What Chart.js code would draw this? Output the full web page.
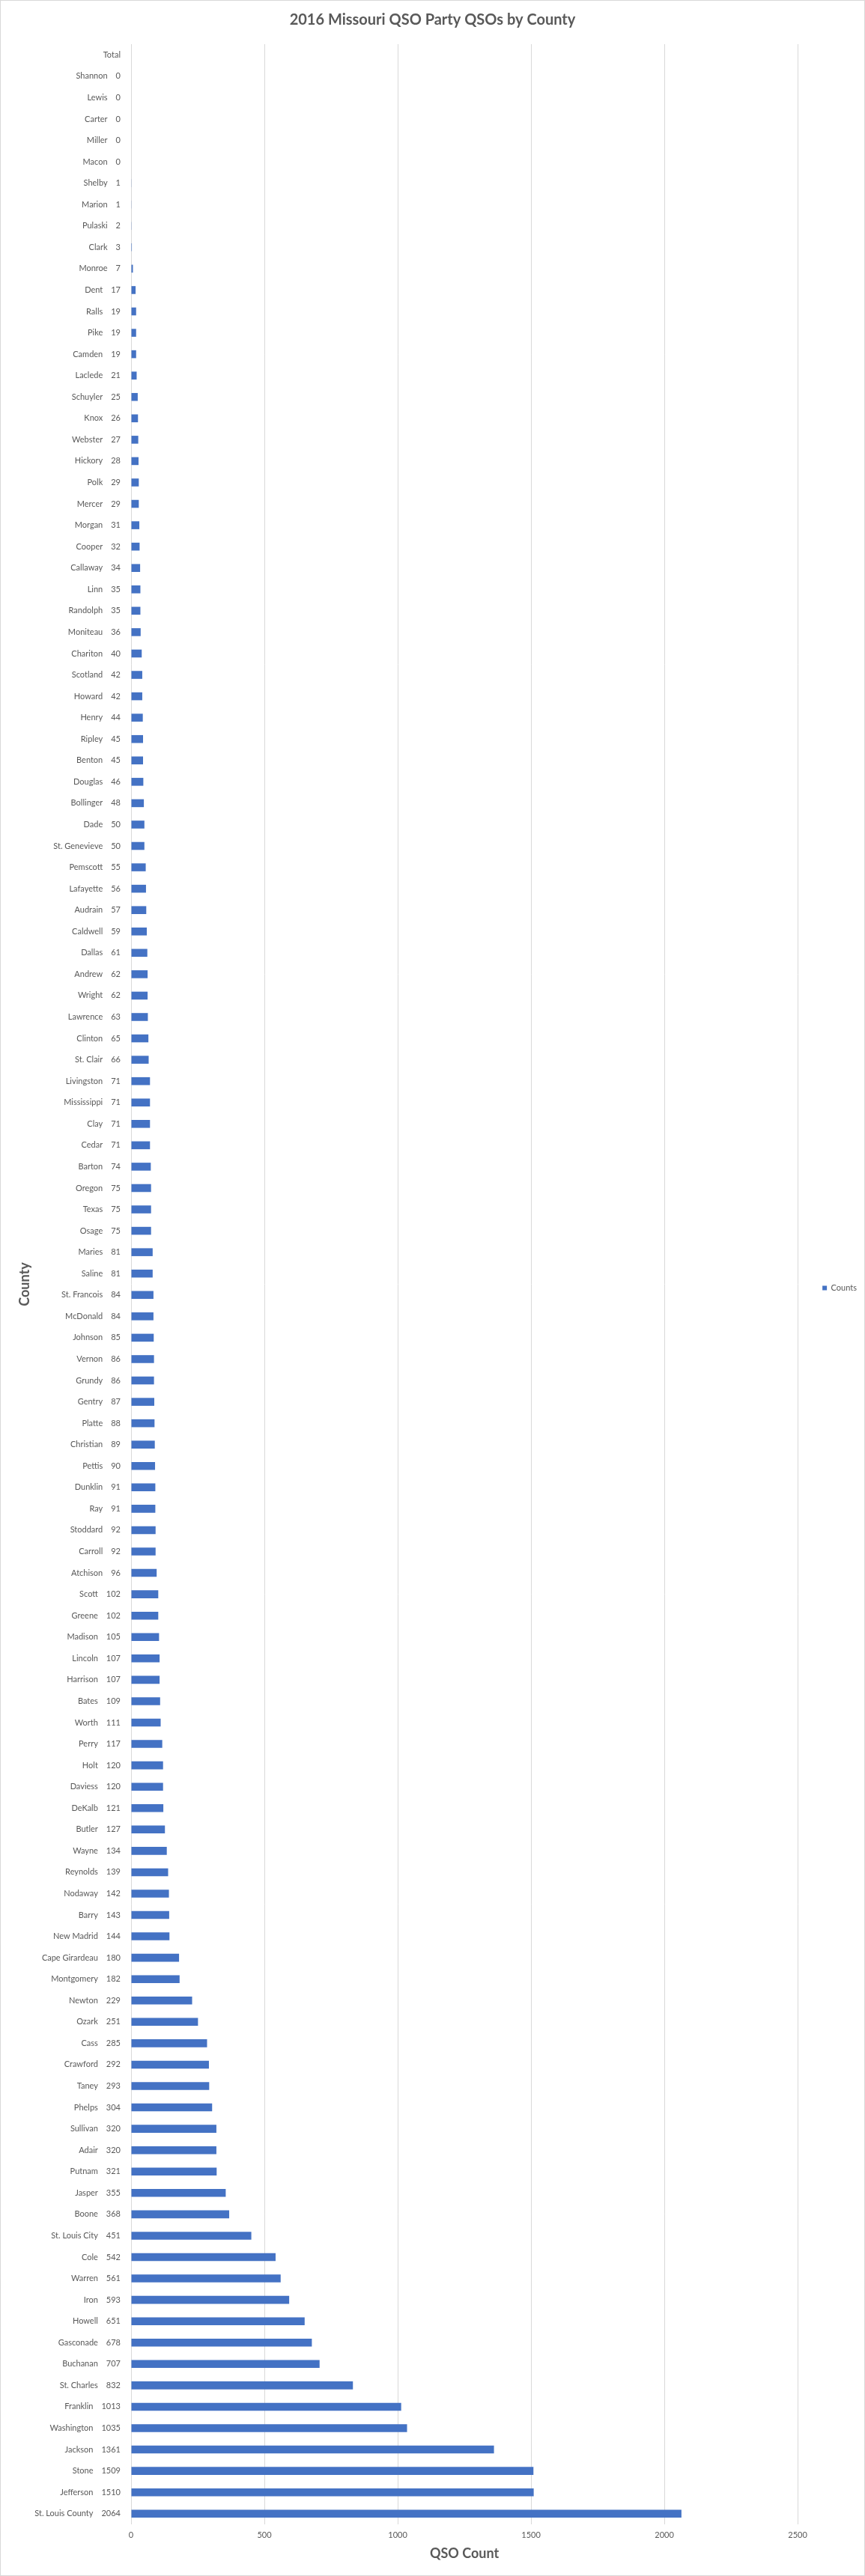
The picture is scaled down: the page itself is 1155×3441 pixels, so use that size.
<!DOCTYPE html>
<html>
<head>
<meta charset="utf-8">
<script src="https://cdn.jsdelivr.net/npm/chart.js@4.4.1/dist/chart.umd.min.js"></script>
<style>
  html, body { margin: 0; padding: 0; background: #ffffff; }
  #wrap { width: 1155px; height: 3441px; box-sizing: border-box; border: 1px solid #d9d9d9; background: #ffffff; }
  #c { display: block; }
</style>
</head>
<body>
<div id="wrap"><canvas id="c" width="1153" height="3439"></canvas></div>
<script>
const chartTitle = "2016 Missouri QSO Party QSOs by County";
const xAxisTitle = "QSO Count";
const yAxisTitle = "County";
const seriesName = "Counts";

const counties = [
  "Total", "Shannon", "Lewis", "Carter", "Miller", "Macon", "Shelby", "Marion", "Pulaski", "Clark",
  "Monroe", "Dent", "Ralls", "Pike", "Camden", "Laclede", "Schuyler", "Knox", "Webster", "Hickory",
  "Polk", "Mercer", "Morgan", "Cooper", "Callaway", "Linn", "Randolph", "Moniteau", "Chariton", "Scotland",
  "Howard", "Henry", "Ripley", "Benton", "Douglas", "Bollinger", "Dade", "St. Genevieve", "Pemscott", "Lafayette",
  "Audrain", "Caldwell", "Dallas", "Andrew", "Wright", "Lawrence", "Clinton", "St. Clair", "Livingston", "Mississippi",
  "Clay", "Cedar", "Barton", "Oregon", "Texas", "Osage", "Maries", "Saline", "St. Francois", "McDonald",
  "Johnson", "Vernon", "Grundy", "Gentry", "Platte", "Christian", "Pettis", "Dunklin", "Ray", "Stoddard",
  "Carroll", "Atchison", "Scott", "Greene", "Madison", "Lincoln", "Harrison", "Bates", "Worth", "Perry",
  "Holt", "Daviess", "DeKalb", "Butler", "Wayne", "Reynolds", "Nodaway", "Barry", "New Madrid", "Cape Girardeau",
  "Montgomery", "Newton", "Ozark", "Cass", "Crawford", "Taney", "Phelps", "Sullivan", "Adair", "Putnam",
  "Jasper", "Boone", "St. Louis City", "Cole", "Warren", "Iron", "Howell", "Gasconade", "Buchanan", "St. Charles",
  "Franklin", "Washington", "Jackson", "Stone", "Jefferson", "St. Louis County"
];

const counts = [
  null, 0, 0, 0, 0, 0, 1, 1, 2, 3,
  7, 17, 19, 19, 19, 21, 25, 26, 27, 28,
  29, 29, 31, 32, 34, 35, 35, 36, 40, 42,
  42, 44, 45, 45, 46, 48, 50, 50, 55, 56,
  57, 59, 61, 62, 62, 63, 65, 66, 71, 71,
  71, 71, 74, 75, 75, 75, 81, 81, 84, 84,
  85, 86, 86, 87, 88, 89, 90, 91, 91, 92,
  92, 96, 102, 102, 105, 107, 107, 109, 111, 117,
  120, 120, 121, 127, 134, 139, 142, 143, 144, 180,
  182, 229, 251, 285, 292, 293, 304, 320, 320, 321,
  355, 368, 451, 542, 561, 593, 651, 678, 707, 832,
  1013, 1035, 1361, 1509, 1510, 2064
];

const xTicks = [0, 500, 1000, 1500, 2000, 2500];

const tickLabels = counties.map((name, i) =>
  counts[i] === null ? name : name + "\u2002\u2002" + counts[i]
);

const FONT = "Lato, 'Open Sans', 'DejaVu Sans', sans-serif";
const GREY = "#595959";

new Chart(document.getElementById("c"), {
  type: "bar",
  data: {
    labels: tickLabels,
    datasets: [{
      label: seriesName,
      data: counts,
      backgroundColor: "#4472C4",
      borderWidth: 0,
      barPercentage: 0.37,
      categoryPercentage: 1.0
    }]
  },
  options: {
    indexAxis: "y",
    responsive: false,
    animation: false,
    devicePixelRatio: 1,
    layout: { padding: 0 },
    plugins: {
      title: {
        display: true,
        text: chartTitle,
        color: GREY,
        font: { family: FONT, size: 20, weight: "bold", lineHeight: 1.2 },
        padding: { top: 14, bottom: 20 }
      },
      legend: {
        display: true,
        position: "right",
        maxWidth: 89,
        labels: {
          boxWidth: 6,
          boxHeight: 6,
          padding: 33,
          color: GREY,
          font: { family: FONT, size: 11 }
        }
      },
      tooltip: { enabled: false }
    },
    scales: {
      x: {
        type: "linear",
        min: xTicks[0],
        max: xTicks[xTicks.length - 1],
        afterBuildTicks: (scale) => { scale.ticks = xTicks.map(v => ({ value: v })); },
        grid: { color: "#d9d9d9", lineWidth: 1, drawTicks: false },
        border: { display: false },
        ticks: {
          color: GREY,
          font: { family: FONT, size: 11 },
          padding: 8,
          callback: (v) => String(v)
        },
        title: {
          display: true,
          text: xAxisTitle,
          color: GREY,
          font: { family: FONT, size: 18, weight: "bold", lineHeight: 1.2 },
          padding: { top: 4, bottom: 18 }
        },
        afterFit: (scale) => { scale.height = 68; }
      },
      y: {
        type: "category",
        grid: { display: false, drawTicks: false },
        border: { display: false },
        ticks: {
          autoSkip: false,
          color: GREY,
          font: { family: FONT, size: 11 },
          padding: 14
        },
        title: {
          display: true,
          text: yAxisTitle,
          color: GREY,
          font: { family: FONT, size: 18, weight: "bold", lineHeight: 1.2 },
          padding: { top: 21, bottom: 4 }
        },
        afterFit: (scale) => { scale.width = 174; }
      }
    }
  }
});
</script>
</body>
</html>
